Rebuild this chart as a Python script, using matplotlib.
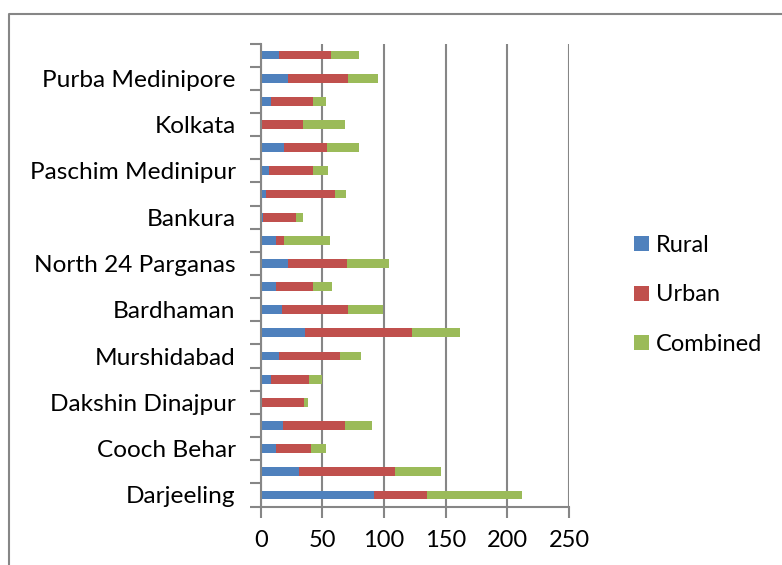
import numpy as np
import matplotlib.pyplot as plt
from matplotlib.lines import Line2D
from matplotlib.ticker import FixedLocator

plt.rcParams['font.family'] = ['Lato', 'DejaVu Sans']

districts = ['Darjeeling', 'Jalpaiguri', 'Cooch Behar', 'Uttar Dinajpur',
             'Dakshin Dinajpur', 'Malda', 'Murshidabad', 'Birbhum', 'Bardhaman',
             'Nadia', 'North 24 Parganas', 'Hooghly', 'Bankura', 'Purulia',
             'Paschim Medinipur', 'Howrah', 'Kolkata', 'South 24 Parganas',
             'Purba Medinipore', 'West Bengal']
rural = [92, 31, 12, 18, 0, 8, 15, 36, 17, 12, 22, 12.5, 2, 4, 7, 19, 0, 8, 22, 15]
urban = [43, 78, 29, 50.5, 35, 31, 49, 87, 54, 30, 48, 6.5, 27, 56, 35.5, 35, 34, 34, 49, 42]
combined = [77, 37, 12, 21.5, 3.5, 10.5, 17, 39, 28, 16, 34, 37, 5, 9, 12, 26, 34, 11, 24, 23]

colors = ['#4F81BD', '#C0504D', '#9BBB59']
grey = '#868686'

fig = plt.figure(figsize=(7.82, 5.65), dpi=100)
ax = fig.add_axes([0.3334, 0.1035, 0.3942, 0.8195])

y = np.arange(len(districts))
h = 0.38
r = np.array(rural)
u = np.array(urban)
c = np.array(combined)
ax.barh(y, r, height=h, color=colors[0], label='Rural')
ax.barh(y, u, left=r, height=h, color=colors[1], label='Urban')
ax.barh(y, c, left=r + u, height=h, color=colors[2], label='Combined')

ax.set_xlim(0, 250)
ax.set_ylim(-0.5, len(districts) - 0.5)
ax.set_xticks([0, 50, 100, 150, 200, 250])
ax.tick_params(axis='x', length=8, width=1.5, color=grey, labelsize=17, pad=9)

ax.set_yticks(y)
ax.set_yticklabels([d if i % 2 == 0 else '' for i, d in enumerate(districts)])
ax.yaxis.set_minor_locator(FixedLocator(np.arange(-0.5, len(districts), 1)))
ax.tick_params(axis='y', which='major', length=0, labelsize=17.6, pad=18)
ax.tick_params(axis='y', which='minor', length=8, width=1.5, color=grey)

ax.grid(axis='x', color=grey, linewidth=1.5)
ax.set_axisbelow(True)
for s in ['top', 'right']:
    ax.spines[s].set_visible(False)
for s in ['left', 'bottom']:
    ax.spines[s].set_color(grey)
    ax.spines[s].set_linewidth(1.5)

fig.legend(loc='center left', bbox_to_anchor=(0.784, 0.478), frameon=False,
           fontsize=17, handlelength=0.6, handleheight=0.6,
           handletextpad=0.3, labelspacing=1.2)

fig.add_artist(Line2D([9 / 782, 9 / 782, 1], [0, 1 - 14 / 565, 1 - 14 / 565],
                      transform=fig.transFigure, color=grey, linewidth=1.5))

fig.savefig('out.png', dpi=100)
